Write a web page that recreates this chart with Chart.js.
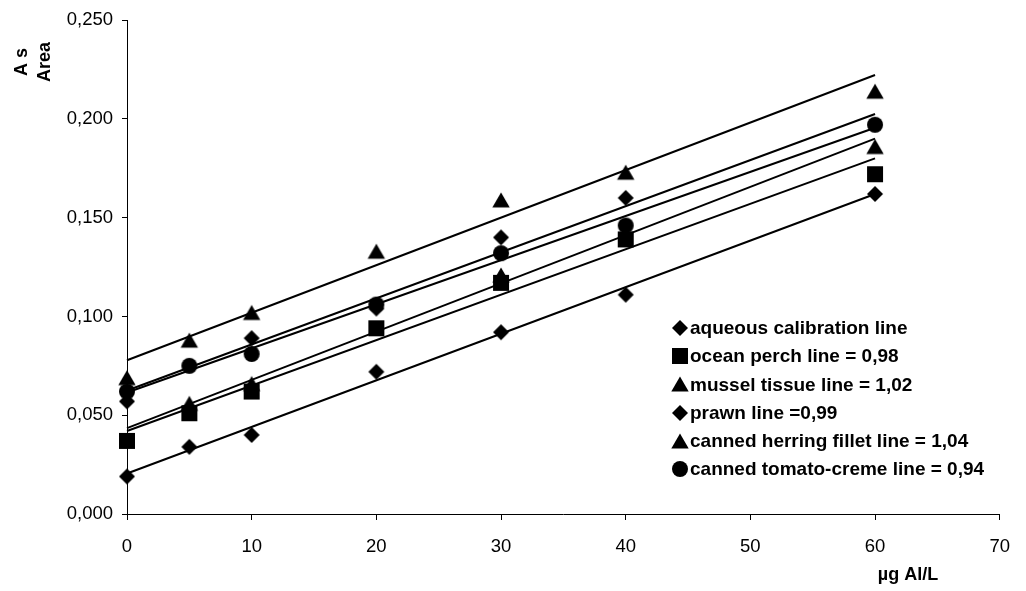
<!DOCTYPE html>
<html>
<head>
<meta charset="utf-8">
<script src="https://cdn.jsdelivr.net/npm/chart.js@4"></script>
<style>
html,body{margin:0;padding:0;background:#fff;}
#wrap{position:relative;width:1026px;height:591px;}
</style>
</head>
<body>
<div id="wrap"><canvas id="c" width="1026" height="591"></canvas></div>
<script>
// ---- data ----
const concentrations = [0, 5, 10, 20, 30, 40, 60];
const aqueous      = [0.019, 0.034, 0.040, 0.072, 0.092, 0.111, 0.162];
const oceanPerch   = [0.037, 0.051, 0.062, 0.094, 0.117, 0.139, 0.172];
const musselTissue = [0.069, 0.088, 0.102, 0.133, 0.159, 0.173, 0.214];
const prawn        = [0.057, null, 0.089, 0.104, 0.140, 0.160, null];
const herring      = [null, 0.056, 0.066, null, 0.121, null, 0.186];
const tomato       = [0.062, 0.075, 0.081, 0.106, 0.132, 0.146, 0.197];

// trend line values at x = 0 and x = 60
const trendX = [0, 60];
const aqueousTrend = [0.0205, 0.162];
const perchTrend   = [0.0420, 0.180];
const musselTrend  = [0.0778, 0.2222];
const prawnTrend   = [0.0625, 0.2025];
const herringTrend = [0.0435, 0.190];
const tomatoTrend  = [0.0615, 0.1955];

const seriesNames = [
  'aqueous calibration line',
  'ocean perch line = 0,98',
  'mussel tissue line = 1,02',
  'prawn line =0,99',
  'canned herring fillet line = 1,04',
  'canned tomato-creme line = 0,94'
];
const seriesShapes = ['diamond', 'square', 'triangle', 'diamond', 'triangle', 'circle'];
const xTitle = 'µg Al/L';
const yTitleLines = ['A s', 'Area'];

const FONT = '"Liberation Sans", Arial, sans-serif';

// ---- markers ----
function makeMarker(shape) {
  const c = document.createElement('canvas');
  const s = 20; c.width = s; c.height = s;
  const g = c.getContext('2d');
  const m = s / 2;
  g.fillStyle = '#000';
  g.beginPath();
  if (shape === 'diamond') {
    g.moveTo(m, m - 8); g.lineTo(m + 8, m); g.lineTo(m, m + 8); g.lineTo(m - 8, m);
  } else if (shape === 'square') {
    g.rect(m - 8, m - 8, 16, 16);
  } else if (shape === 'triangle') {
    g.moveTo(m, m - 7.5); g.lineTo(m + 8.7, m + 7.5); g.lineTo(m - 8.7, m + 7.5);
  } else {
    g.arc(m, m, 8, 0, Math.PI * 2);
  }
  g.closePath();
  g.fill();
  return c;
}
const markers = {};
['diamond', 'square', 'triangle', 'circle'].forEach(s => markers[s] = makeMarker(s));

const seriesValues = [aqueous, oceanPerch, musselTissue, prawn, herring, tomato];
const trendValues = [aqueousTrend, perchTrend, musselTrend, prawnTrend, herringTrend, tomatoTrend];
const drawOrder = [5, 3, 2, 4, 1, 0]; // lower = drawn on top

function pts(vals) {
  return concentrations.map((x, i) => ({x: x, y: vals[i]})).filter(p => p.y !== null);
}

const datasets = [];
seriesValues.forEach((vals, i) => {
  datasets.push({
    type: 'scatter',
    label: seriesNames[i],
    data: pts(vals),
    pointStyle: markers[seriesShapes[i]],
    pointRadius: 8,
    showLine: false,
    clip: false,
    order: drawOrder[i]
  });
});
trendValues.forEach((t, i) => {
  datasets.push({
    type: 'line',
    label: 'trend ' + i,
    data: trendX.map((x, j) => ({x: x, y: t[j]})),
    borderColor: '#000',
    borderWidth: 2,
    pointRadius: 0,
    fill: false,
    tension: 0,
    clip: false,
    order: 20
  });
});

const decor = {
  id: 'decor',
  afterDraw(chart) {
    const ctx = chart.ctx;
    ctx.save();
    // legend
    const rowY = [328, 356.2, 384.4, 412.6, 440.8, 469];
    ctx.font = 'bold 19px ' + FONT;
    ctx.fillStyle = '#000';
    ctx.textAlign = 'left';
    ctx.textBaseline = 'middle';
    seriesNames.forEach((name, i) => {
      const mk = markers[seriesShapes[i]];
      ctx.drawImage(mk, 680 - mk.width / 2, Math.round(rowY[i]) - mk.height / 2);
      ctx.fillText(name, 690, rowY[i] + 1);
    });
    // x title
    ctx.font = 'bold 18px ' + FONT;
    ctx.textAlign = 'center';
    ctx.fillText(xTitle, 908, 575);
    // y title
    ctx.translate(0, 62);
    ctx.rotate(-Math.PI / 2);
    ctx.fillText(yTitleLines[0], 0, 22);
    ctx.fillText(yTitleLines[1], 0, 45);
    ctx.restore();
  }
};

new Chart(document.getElementById('c'), {
  type: 'scatter',
  data: { datasets: datasets },
  plugins: [decor],
  options: {
    responsive: false,
    animation: false,
    devicePixelRatio: 1,
    events: [],
    layout: { padding: { left: 0, top: 19, right: 24, bottom: 0 } },
    plugins: { legend: { display: false }, tooltip: { enabled: false } },
    scales: {
      x: {
        type: 'linear', min: 0, max: 70,
        afterFit(s) { s.height = 77; },
        ticks: { stepSize: 10, color: '#000', font: { family: FONT, size: 18.5 }, padding: 16, maxRotation: 0 },
        grid: { drawOnChartArea: false, drawTicks: true, tickLength: 6, color: '#000', lineWidth: 1 },
        border: { display: true, color: '#000', width: 1 }
      },
      y: {
        type: 'linear', min: 0, max: 0.25,
        afterFit(s) { s.width = 127; },
        ticks: {
          stepSize: 0.05, color: '#000', font: { family: FONT, size: 18.5 }, padding: 9,
          callback: v => v.toFixed(3).replace('.', ',')
        },
        grid: { drawOnChartArea: false, drawTicks: true, tickLength: 5, color: '#000', lineWidth: 1 },
        border: { display: true, color: '#000', width: 1 }
      }
    }
  }
});
</script>
</body>
</html>
